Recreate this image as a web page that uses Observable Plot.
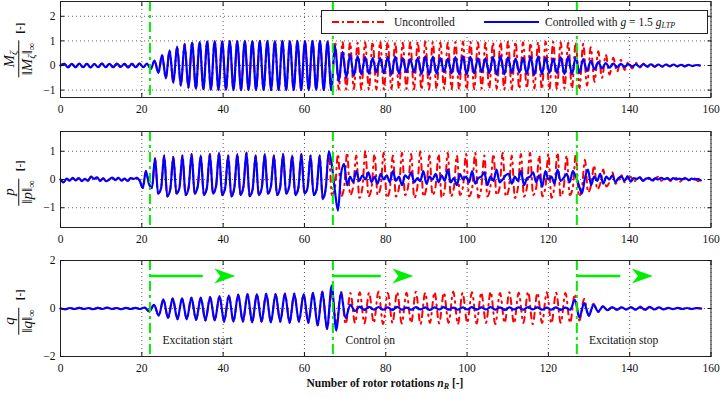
<!DOCTYPE html>
<html><head><meta charset="utf-8">
<script src="https://cdn.jsdelivr.net/npm/d3@7"></script>
<script src="https://cdn.jsdelivr.net/npm/@observablehq/plot@0.6"></script>
<style>
html,body{margin:0;padding:0;background:#fff;}
#chart{position:relative;width:720px;height:397px;font-family:"Liberation Serif","DejaVu Serif",serif;color:#111;overflow:hidden;}
.panel{position:absolute;left:0;}
.ylab{position:absolute;transform:translate(-50%,-50%) rotate(-90deg);display:flex;align-items:center;white-space:nowrap;}
.frac{display:inline-flex;flex-direction:column;align-items:center;font-size:15px;line-height:1.05;}
.den{border-top:1px solid #111;padding:1px 2px 0 2px;}
.unit{margin-left:7px;font-weight:bold;font-size:11px;}
sub{font-size:70%;line-height:0;vertical-align:-0.3em;}
#legend{position:absolute;left:321px;top:10px;width:385px;height:22px;border:1px solid #222;background:#fff;font-size:11.5px;}
#legend .t{position:absolute;top:3px;line-height:16px;}
#legend svg{position:absolute;top:6px;}
#xlab{position:absolute;left:60px;width:650px;top:377px;text-align:center;font-weight:bold;font-size:11.5px;}
</style></head>
<body><div id="chart"></div>
<script>
// ---------------- data ----------------
const xTicks = [0, 20, 40, 60, 80, 100, 120, 140, 160];
const markers = [22, 67, 127];            // excitation start, control on, excitation stop
const arrowStart = [22, 67, 127];
const arrowEnd = [43, 86.8, 145.7];
const arrowY = 1.35;
const notes = ["Excitation start", "Control on", "Excitation stop"];
const noteX = [33.7, 76.2, 138.5];
const noteY = -1.34;

// M_zeta : extrema every half period (step in rotor rotations)
const mStep = 0.925;
const mShared = [0,
 0.07,-0.08,0.07,-0.07,0.08,-0.07,0.07,-0.08,0.06,-0.07,
 0.08,-0.07,0.07,-0.07,0.08,-0.06,0.07,-0.08,0.07,-0.07,
 0.08,-0.07,0.08,
 -0.14,0.2,-0.3,0.42,-0.52,0.62,-0.7,0.77,-0.82,0.87,-0.9,0.92,-0.94,0.95,-0.96,0.98,-0.98,0.99,-0.99,
 0.98,-0.99,0.99,-1,0.99,-1,1,-1,0.99,-1,
 1,-0.99,1,-1,0.99,-1,1,-1,0.99,-1,
 1,-1,0.99,-1,1,-0.99,1,-1,0.98,-1];
const mUncontrolled = [
 0.97,-0.98,0.95,-0.97,0.93,-0.95,0.92,-0.96,0.94,-0.97,
 0.96,-0.98,0.97,-0.97,0.95,-0.95,0.93,-0.94,0.92,-0.95,
 0.94,-0.97,0.96,-0.98,0.97,-0.97,0.95,-0.95,0.93,-0.94,
 0.92,-0.95,0.95,-0.97,0.97,-0.98,0.96,-0.96,0.94,-0.94,
 0.92,-0.93,0.93,-0.95,0.95,-0.97,0.97,-0.97,0.96,-0.95,
 0.94,-0.93,0.92,-0.94,0.95,-0.96,0.97,-0.97,0.96,-0.95,
 0.94,-0.93,0.92,-0.93,0.94,
 -0.92,0.88,-0.82,0.74,-0.66,0.58,-0.5,0.43,-0.37,0.31,
 -0.26,0.22,-0.18,0.15,-0.12,0.1,-0.09,0.08,-0.07,0.06,
 -0.06,0.05,-0.05,0.05,-0.04,0.05,-0.04,0.04,-0.04,0.03,
 -0.03,0.03,0];
const mControlled = [
 0.8,-0.65,0.55,-0.5,0.45,-0.42,0.38,-0.36,0.34,-0.33,
 0.3,-0.28,0.3,-0.32,0.35,-0.37,0.36,-0.34,0.3,-0.27,
 0.26,-0.28,0.31,-0.34,0.37,-0.38,0.36,-0.33,0.3,-0.27,
 0.28,-0.31,0.34,-0.36,0.38,-0.37,0.35,-0.32,0.29,-0.27,
 0.29,-0.32,0.35,-0.37,0.38,-0.36,0.33,-0.3,0.28,-0.29,
 0.31,-0.34,0.36,-0.38,0.37,-0.35,0.32,-0.3,0.28,-0.3,
 0.33,-0.35,0.37,-0.36,0.34,
 -0.3,0.26,-0.22,0.19,-0.16,0.14,-0.12,0.1,-0.09,0.08,
 -0.07,0.07,-0.06,0.06,-0.05,0.05,-0.05,0.05,-0.04,0.05,
 -0.04,0.04,-0.04,0.04,-0.03,0.04,-0.03,0.03,-0.03,0.03,
 -0.02,0.02,0];

// p : three samples per cycle (peak, trough, shoulder)
const pStep = 0.75;
const pShared = [
 0,-0.1,0.03,-0.04,0.06,-0.03,0.05,-0.05,0.02,-0.04,
 0.1,0.02,0.08,-0.05,0.04,-0.06,0,0.07,-0.02,0.06,
 -0.04,0.03,-0.05,0.05,0.02,0.06,-0.05,-0.3,0.3,
 -0.15,-0.3,
 0.75,-0.5,-0.3, 0.85,-0.6,-0.35, 0.8,-0.5,-0.3, 0.85,-0.55,-0.3, 0.9,-0.5,-0.25,
 0.85,-0.55,-0.3, 0.9,-0.5,-0.25, 0.95,-0.55,-0.3, 0.85,-0.6,-0.3, 0.9,-0.55,-0.25,
 0.95,-0.6,-0.35, 0.85,-0.55,-0.3, 0.9,-0.5,-0.25, 0.85,-0.55,-0.3, 0.9,-0.5,-0.25,
 0.85,-0.55,-0.3, 0.9,-0.5,-0.3, 0.85,-0.55,-0.35, 0.85,-0.7,-0.3,
 1.0];
const pUncontrolled = [
 -0.55,-0.3,
 0.9,-0.6,-0.3, 0.95,-0.55,-0.25, 0.85,-0.65,-0.3, 1.0,-0.6,-0.3, 0.9,-0.55,-0.25,
 0.95,-0.65,-0.35, 0.85,-0.6,-0.3, 0.95,-0.55,-0.25, 0.9,-0.65,-0.3, 1.0,-0.6,-0.3,
 0.85,-0.55,-0.25, 0.9,-0.65,-0.35, 0.95,-0.6,-0.3, 0.85,-0.55,-0.25, 0.9,-0.6,-0.3,
 0.95,-0.65,-0.3, 0.85,-0.6,-0.25, 0.9,-0.55,-0.3, 0.95,-0.6,-0.35, 0.85,-0.65,-0.3,
 0.9,-0.6,-0.25, 0.95,-0.55,-0.3, 0.85,-0.6,-0.3, 0.9,-0.65,-0.25, 0.95,-0.6,-0.3,
 0.85,-0.55,-0.3,
 0.9,
 -0.6,-0.3, 0.7,-0.45,-0.2, 0.5,-0.35,-0.15, 0.35,-0.25,-0.1, 0.25,-0.15,-0.05,
 0.15,-0.1,0.0, 0.1,-0.08,0.02, 0.08,-0.05,0.03, 0.06,-0.06,0.02, 0.1,-0.04,0.0,
 0.06,-0.05,0.02, 0.05,-0.08,0.0, 0.07,-0.03,0.02, 0.04,-0.06,0.0];
const pControlled = [
 0.5,-0.4,-1.1,0.2,0.55,-0.2,
 0.1,-0.1,0.3,-0.05,0.15,0.0,0.25,-0.1,0.1,-0.15,
 0.2,0.0,0.15,-0.1,0.3,-0.05,0.1,-0.2,0.15,0.05,
 0.25,-0.1,0.05,-0.05,0.3,-0.15,0.1,0.0,0.2,-0.1,
 0.15,-0.05,0.35,-0.1,0.05,-0.2,0.2,0.0,0.1,-0.1,
 0.3,-0.15,0.05,0.1,0.25,-0.2,0.1,-0.05,0.35,-0.1,
 0.0,0.15,0.2,-0.15,0.1,-0.05,0.3,-0.2,0.05,0.1,
 0.25,-0.1,0.15,-0.25,0.3,0.0,0.1,-0.15,0.35,-0.05,
 0.05,0.2,-0.1,0.3,
 0.1,
 -0.2,-0.5,0.05,0.35,-0.2,0.1,-0.05,0.2,-0.15,0.1,
 0.0,0.15,-0.1,0.05,0.1,-0.05,0.12,-0.08,0.05,0.02,
 0.08,-0.05,0.03,0.05,-0.03,0.04,0.0,0.06,0.01,0.04,
 -0.02,0.05,0.0,0.03,0.01,0.04,-0.02,0.03,0.0,0.02,
 -0.03];

// q : extrema every half period
const qStep = 1.15;
const qShared = [
 0,-0.03,0.02,-0.02,0.03,-0.02,0.02,-0.03,0.03,-0.02,
 0.04,-0.02,0.02,-0.03,0.03,-0.02,0.03,-0.02,0.04,
 -0.12,0.15,-0.3,0.38,-0.4,0.42,-0.45,0.42,-0.45,0.45,
 -0.48,0.45,-0.5,0.48,-0.5,0.52,-0.55,0.55,-0.55,0.58,
 -0.55,0.6,-0.58,0.6,-0.55,0.62,-0.58,0.6,-0.55,0.62,
 -0.6,0.62,-0.55,0.6,-0.6,0.65,-0.7,0.7,-0.85];
const qUncontrolled = [
 0.65,-0.6,0.7,-0.65,0.65,-0.6,0.68,-0.62,0.66,-0.6,
 0.7,-0.65,0.65,-0.6,0.68,-0.62,0.66,-0.6,0.7,-0.65,
 0.65,-0.6,0.68,-0.62,0.66,-0.6,0.7,-0.65,0.65,-0.6,
 0.68,-0.62,0.66,-0.6,0.7,-0.65,0.65,-0.6,0.68,-0.62,
 0.66,-0.6,0.7,-0.65,0.65,-0.6,0.68,-0.62,0.66,-0.6,
 0.65,-0.6,0.6,
 -0.5,0.4,-0.3,0.2,-0.15,0.1,-0.08,0.06,-0.05,0.05,
 -0.04,0.06,-0.05,0.08,-0.06,0.05,-0.04,0.03,-0.03,0.03,
 -0.02,0.02,-0.02,0.02,-0.02,0.01,0];
const qControlled = [
 0.95,-0.92,0.65,-0.4,0.15,-0.1,0.08,-0.06,0.07,-0.05,
 0.06,-0.05,0.05,-0.06,0.07,-0.05,0.04,-0.05,0.06,-0.04,
 0.05,-0.06,0.05,-0.04,0.06,-0.05,0.04,-0.05,0.05,-0.04,
 0.06,-0.05,0.05,-0.04,0.06,-0.05,0.05,-0.06,0.05,-0.04,
 0.05,-0.05,0.06,-0.04,0.05,-0.05,0.04,-0.05,0.05,-0.06,
 0.04,-0.05,0.36,
 -0.37,0.22,-0.3,0.15,-0.12,0.08,-0.07,0.06,-0.05,0.05,
 -0.04,0.05,-0.04,0.06,-0.05,0.07,-0.04,0.05,-0.04,0.03,
 -0.03,0.03,-0.02,0.02,-0.02,0.02,0];

// ---------------- drawing ----------------
const FONT = '"Liberation Serif","DejaVu Serif",serif';
const RED = "#ff0000", BLUE = "#0000ff", GREEN = "#00ee00";
const series = (shared, after, step) => shared.concat(after).map((v, i) => ({x: i * step, y: v}));
const fmt = d => (d < 0 ? "\u2212" + (-d) : String(d));

const arrowHead = {draw(ctx) {
  ctx.moveTo(0, 0); ctx.lineTo(-21, -7.5); ctx.lineTo(-15, 0); ctx.lineTo(-21, 7.5); ctx.closePath();
}};

function panel({top, domain, yTicks, red, blue, curve, extra = []}) {
  const grid = {stroke: "#333", strokeOpacity: 1, strokeWidth: 0.8, strokeDasharray: "1,3"};
  const svg = Plot.plot({
    width: 720, height: 125, marginLeft: 60, marginRight: 9.5, marginTop: 1, marginBottom: 28,
    x: {domain: [0, 160], label: null},
    y: {domain, label: null},
    style: {fontFamily: FONT, fontSize: "11.5px", background: "transparent", color: "#111", overflow: "visible"},
    marks: [
      Plot.gridX({ticks: xTicks, ...grid}),
      Plot.gridY({ticks: yTicks, ...grid}),
      Plot.line(red, {x: "x", y: "y", stroke: RED, strokeWidth: 2, strokeDasharray: "6,5,1.5,5", curve}),
      Plot.line(blue, {x: "x", y: "y", stroke: BLUE, strokeWidth: 2.2, curve}),
      Plot.ruleX(markers, {x: d => d, stroke: GREEN, strokeWidth: 2, strokeDasharray: "10,4,3,4"}),
      ...extra,
      Plot.frame({stroke: "#222", strokeWidth: 1}),
      Plot.axisX({ticks: xTicks, anchor: "bottom", tickSize: -4, tickPadding: 11, tickFormat: fmt, label: null}),
      Plot.axisX({ticks: xTicks, anchor: "top", tickSize: -4, tickFormat: () => "", label: null}),
      Plot.axisY({ticks: yTicks, anchor: "left", tickSize: -4, tickPadding: 9, tickFormat: fmt, label: null}),
      Plot.axisY({ticks: yTicks, anchor: "right", tickSize: -4, tickFormat: () => "", label: null})
    ]
  });
  svg.classList.add("panel");
  svg.style.top = top + "px";
  return svg;
}

const chart = document.getElementById("chart");
chart.appendChild(panel({
  top: 0, domain: [-1.3, 2.6], yTicks: [-1, 0, 1, 2],
  red: series(mShared, mUncontrolled, mStep), blue: series(mShared, mControlled, mStep), curve: "catmull-rom"
}));
chart.appendChild(panel({
  top: 129.7, domain: [-1.7, 1.7], yTicks: [-1, 0, 1],
  red: series(pShared, pUncontrolled, pStep), blue: series(pShared, pControlled, pStep), curve: "monotone-x"
}));
chart.appendChild(panel({
  top: 259, domain: [-2, 2], yTicks: [-2, 0, 2],
  red: series(qShared, qUncontrolled, qStep), blue: series(qShared, qControlled, qStep), curve: "catmull-rom",
  extra: [
    Plot.link(arrowStart, {x1: d => d, x2: (d, i) => arrowEnd[i] - 8, y1: () => arrowY, y2: () => arrowY, stroke: GREEN, strokeWidth: 2.5}),
    Plot.dot(arrowEnd, {x: d => d, y: () => arrowY, symbol: arrowHead, fill: GREEN, stroke: "none"}),
    Plot.text(notes, {x: (d, i) => noteX[i], y: () => noteY, text: d => d, fontSize: 11.5, fill: "#111"})
  ]
}));

// y labels
const ylabs = [
  {cx: 19, cy: 50, html: '<span class="frac"><span class="num"><i>M</i><sub><i>ζ</i></sub></span><span class="den">‖<i>M</i><sub><i>ζ</i></sub>‖<sub>∞</sub></span></span><span class="unit">[-]</span>'},
  {cx: 19, cy: 183, html: '<span class="frac"><span class="num"><i>p</i></span><span class="den">‖<i>p</i>‖<sub>∞</sub></span></span><span class="unit">[-]</span>'},
  {cx: 19, cy: 312, html: '<span class="frac"><span class="num"><i>q</i></span><span class="den">‖<i>q</i>‖<sub>∞</sub></span></span><span class="unit">[-]</span>'}
];
for (const l of ylabs) {
  const d = document.createElement("div");
  d.className = "ylab"; d.style.left = l.cx + "px"; d.style.top = l.cy + "px"; d.innerHTML = l.html;
  chart.appendChild(d);
}

// legend
const legend = document.createElement("div");
legend.id = "legend";
legend.innerHTML =
  `<svg width="54" height="10" style="left:10px"><line x1="0" y1="5" x2="54" y2="5" stroke="${RED}" stroke-width="2" stroke-dasharray="7,3,2,3"/></svg>` +
  `<span class="t" style="left:72px">Uncontrolled</span>` +
  `<svg width="55" height="10" style="left:162px"><line x1="0" y1="5" x2="55" y2="5" stroke="${BLUE}" stroke-width="2"/></svg>` +
  `<span class="t" style="left:223px">Controlled with <i>g</i> = 1.5 <i>g</i><sub><i>LTP</i></sub></span>`;
chart.appendChild(legend);

const xl = document.createElement("div");
xl.id = "xlab";
xl.innerHTML = 'Number of rotor rotations <i>n</i><sub><i>R</i></sub> [-]';
chart.appendChild(xl);
</script>
</body></html>
